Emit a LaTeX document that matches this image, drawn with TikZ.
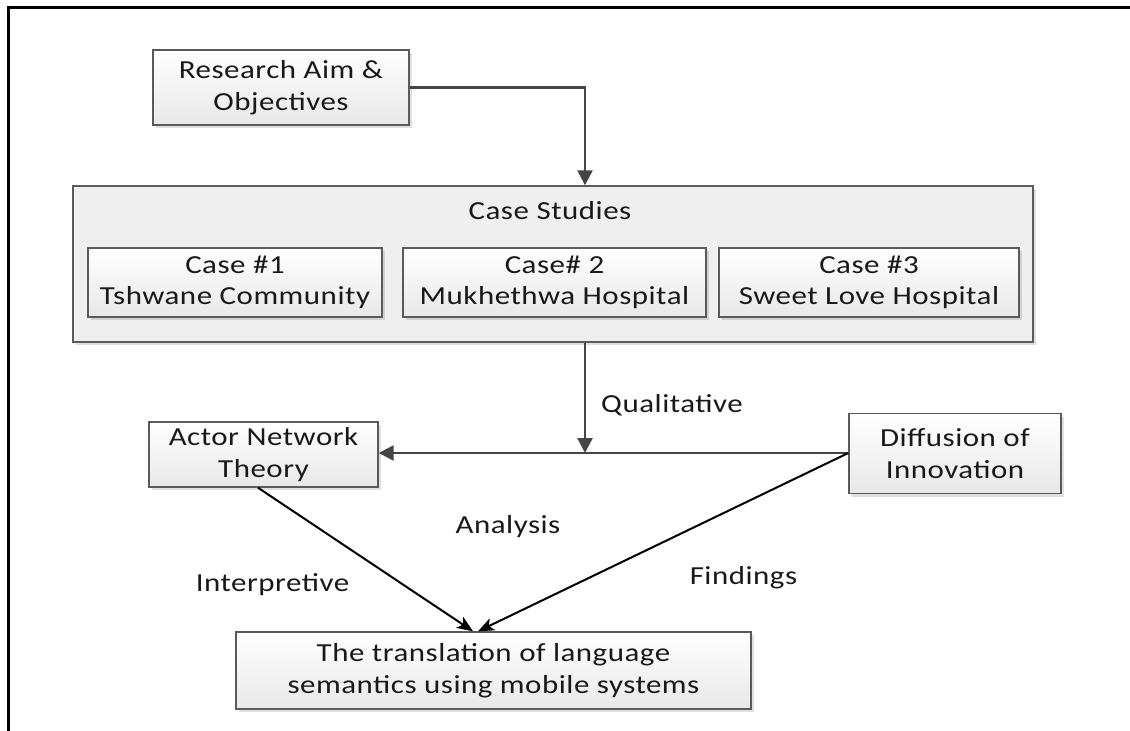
\documentclass[tikz,border=0pt]{standalone}
\usepackage{fontspec}
\setmainfont{Carlito}[FakeStretch=1.19,LetterSpace=2]
\usetikzlibrary{arrows.meta,shadows,calc}
\definecolor{edge}{HTML}{5A5A5A}
\definecolor{conn}{HTML}{454545}
\definecolor{panel}{HTML}{EFEFEF}
\begin{document}
\begin{tikzpicture}[x=1pt,y=-1pt,
  txt/.style={font=\fontsize{26}{31.5}\selectfont, text=black!90, align=center},
  box/.style={txt, draw=edge, line width=1.4pt, inner sep=0pt,
    top color=white, bottom color=black!9,
    drop shadow={shadow xshift=3pt, shadow yshift=-3pt, fill=black, opacity=0.12}},
  panelbox/.style={draw=edge, line width=1.4pt, inner sep=0pt, fill=panel,
    drop shadow={shadow xshift=3pt, shadow yshift=-3pt, fill=black, opacity=0.12}},
  flow/.style={draw=conn, line width=2.4pt, -{Triangle[length=15pt,width=15pt]}},
  converge/.style={draw=black, line width=2pt, -{Stealth[length=16pt,width=13pt,inset=4pt]}},
  lbl/.style={txt, inner sep=0pt}
]
\useasboundingbox (0,0) rectangle (1130,731);
\fill[white] (0,0) rectangle (1130,731);

% outer frame (left and top edges)
\draw[line width=3pt, black] (8,735) -- (8,7) -- (1134,7);

% boxes
\node[box, minimum width=256pt, minimum height=75pt] (aim) at (281,87.5)
  {Research Aim \&\\Objectives};
\node[panelbox, minimum width=960pt, minimum height=156pt] (cs) at (553,264) {};
\node[lbl] (cstitle) at (550,211) {Case Studies};
\node[box, minimum width=294pt, minimum height=69pt] (c1) at (235,282.5)
  {Case \#1\\Tshwane Community};
\node[box, minimum width=303pt, minimum height=69pt] (c2) at (554.5,282.5)
  {Case\# 2\\Mukhethwa Hospital};
\node[box, minimum width=300pt, minimum height=69pt] (c3) at (869,282.5)
  {Case \#3\\Sweet Love Hospital};
\node[box, minimum width=229pt, minimum height=65pt] (ant) at (263.5,454.5)
  {Actor Network\\Theory};
\node[box, minimum width=212pt, minimum height=80pt] (dif) at (955,453.5)
  {Diffusion of\\Innovation};
\node[box, minimum width=515pt, minimum height=77pt] (res) at (493.5,670.5)
  {The translation of language\\semantics using mobile systems};

% labels
\node[lbl] (qual) at (672,405) {Qualitative};
\node[lbl] (ana) at (508,527) {Analysis};
\node[lbl] (interp) at (272.5,585) {Interpretive};
\node[lbl] (find) at (743.5,578) {Findings};

% connectors
\coordinate (j) at (585,453);
\draw[flow] (aim.east) -| (cs.north -| j);
\draw[flow] (cs.south -| j) -- (j);
\draw[flow] (dif.west |- j) -- (ant.east |- j);
\draw[converge] ([xshift=-5.5pt]ant.south) -- ([xshift=-20.5pt]res.north);
\draw[converge] (dif.west |- j) -- ([xshift=-15.5pt]res.north);
\end{tikzpicture}
\end{document}
